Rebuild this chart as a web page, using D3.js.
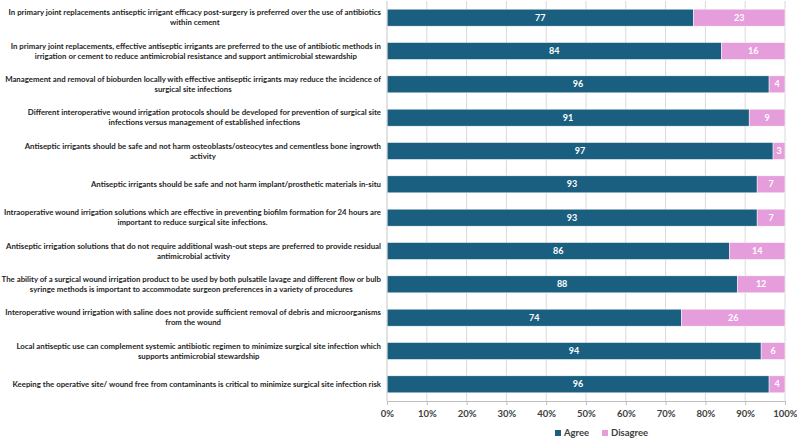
<!DOCTYPE html>
<html>
<head>
<meta charset="utf-8">
<script src="https://cdn.jsdelivr.net/npm/d3@7"></script>
<style>
  body { margin: 0; background: #fff; }
  svg { font-family: Lato, "Open Sans", sans-serif; }
</style>
</head>
<body>
<svg width="797" height="439"></svg>
<script>
// statements, each split into the lines shown in the chart
var statements = [
    ["In primary joint replacements antiseptic irrigant efficacy post-surgery is preferred over the use of antibiotics", "within cement"],
    ["In primary joint replacements, effective antiseptic irrigants are preferred to the use of antibiotic methods in", "irrigation or cement to reduce antimicrobial resistance and support antimicrobial stewardship"],
    ["Management and removal of bioburden locally with effective antiseptic irrigants may reduce the incidence of", "surgical site infections"],
    ["Different interoperative wound irrigation protocols should be developed for prevention of surgical site", "infections versus management of established infections"],
    ["Antiseptic irrigants should be safe and not harm osteoblasts/osteocytes and cementless bone ingrowth", "activity"],
    ["Antiseptic irrigants should be safe and not harm implant/prosthetic materials in-situ"],
    ["Intraoperative wound irrigation solutions which are effective in preventing biofilm formation for 24 hours are", "important to reduce surgical site infections."],
    ["Antiseptic irrigation solutions that do not require additional wash-out steps are preferred to provide residual", "antimicrobial activity"],
    ["The ability of a surgical wound irrigation product to be used by both pulsatile lavage and different flow or bulb", "syringe methods is important to accommodate surgeon preferences in a variety of procedures"],
    ["Interoperative wound irrigation with saline does not provide sufficient removal of debris and microorganisms", "from the wound"],
    ["Local antiseptic use can complement systemic antibiotic regimen to minimize surgical site infection which", "supports antimicrobial stewardship"],
    ["Keeping the operative site/ wound free from contaminants is critical to minimize surgical site infection risk"]
];
var agree    = [77, 84, 96, 91, 97, 93, 93, 86, 88, 74, 94, 96];
var disagree = [23, 16, 4, 9, 3, 7, 7, 14, 12, 26, 6, 4];
var seriesNames = ["Agree", "Disagree"];
var xTicks = [0, 10, 20, 30, 40, 50, 60, 70, 80, 90, 100];

var colors = { "Agree": "#1B5F80", "Disagree": "#E59EDB" };

var svg = d3.select('svg');

var rows = statements.map(function(s, i) {
    return { id: i, lines: s, Agree: agree[i], Disagree: disagree[i] };
});

var x = d3.scaleLinear().domain([0, 100]).range([387, 785]);
var y = d3.scaleBand()
    .domain(rows.map(d => d.id))
    .range([1, 401])
    .paddingInner(0.49)
    .paddingOuter(0.245);

// gridlines
svg.append("g")
    .selectAll("line")
    .data(xTicks)
    .enter()
    .append("line")
    .attr("x1", d => x(d))
    .attr("x2", d => x(d))
    .attr("y1", 1)
    .attr("y2", 401)
    .style("stroke", "#d9d9d9")
    .style("stroke-width", 1);

// stacked bars
var stack = d3.stack().keys(seriesNames)(rows);

var layers = svg.selectAll("g.layer")
    .data(stack)
    .enter()
    .append("g")
    .attr("class", "layer")
    .style("fill", d => colors[d.key]);

layers.selectAll("rect")
    .data(d => d)
    .enter()
    .append("rect")
    .attr("x", d => x(d[0]))
    .attr("y", d => y(d.data.id))
    .attr("width", d => x(d[1]) - x(d[0]))
    .attr("height", y.bandwidth())
    .style("stroke", "#ffffff")
    .style("stroke-width", 0.5);

layers.selectAll("text")
    .data(d => d)
    .enter()
    .append("text")
    .attr("x", d => (x(d[0]) + x(d[1])) / 2)
    .attr("y", d => y(d.data.id) + y.bandwidth() / 2)
    .attr("dy", "0.35em")
    .attr("text-anchor", "middle")
    .style("fill", "#ffffff")
    .style("font-size", "9px")
    .style("font-weight", "700")
    .text(d => d[1] - d[0]);

// x axis
var xAxis = d3.axisBottom(x)
    .tickValues(xTicks)
    .tickSize(4)
    .tickFormat(d => d + "%");
var gx = svg.append("g")
    .attr("transform", "translate(0,401)")
    .call(xAxis);
gx.select(".domain").style("stroke", "#bfbfbf");
gx.selectAll(".tick line").style("stroke", "#bfbfbf");
gx.selectAll(".tick text")
    .attr("y", 9)
    .style("font-family", "Lato, sans-serif")
    .style("font-size", "9.5px")
    .style("font-weight", "700")
    .style("fill", "#404040");

// left axis line
svg.append("line")
    .attr("x1", 387).attr("x2", 387)
    .attr("y1", 1).attr("y2", 401)
    .style("stroke", "#d9d9d9");

// category labels, block right-aligned, lines centred within the block
var labelRight = 381;
var labelFont = 8;
var labels = svg.append("g")
    .style("font-size", labelFont + "px")
    .style("font-weight", "700")
    .style("fill", "#262626");

// scale font so the widest line fits the available width
var widest = 0;
statements.forEach(function(s) {
    s.forEach(function(line) {
        var probe = labels.append("text").text(line);
        widest = Math.max(widest, probe.node().getComputedTextLength());
        probe.remove();
    });
});
labelFont = labelFont * 380 / widest;
labels.style("font-size", labelFont + "px");

rows.forEach(function(d) {
    var g = labels.append("g");
    var n = d.lines.length;
    var cy = y(d.id) + y.bandwidth() / 2;
    var texts = d.lines.map(function(line, k) {
        return g.append("text")
            .attr("y", cy + (k - (n - 1) / 2) * 10)
            .attr("dy", "0.35em")
            .attr("text-anchor", "middle")
            .text(line);
    });
    var maxW = d3.max(texts, t => t.node().getComputedTextLength());
    texts.forEach(t => t.attr("x", labelRight - maxW / 2));
});

// legend
var legend = svg.append("g")
    .attr("transform", "translate(555,433)");
var legendX = [0, 47];
seriesNames.forEach(function(name, i) {
    legend.append("rect")
        .attr("x", legendX[i])
        .attr("y", -3)
        .attr("width", 6)
        .attr("height", 6)
        .style("fill", colors[name]);
    legend.append("text")
        .attr("x", legendX[i] + 9)
        .attr("y", 0)
        .attr("dy", "0.35em")
        .style("font-size", "9.5px")
        .style("font-weight", "700")
        .style("fill", "#404040")
        .text(name);
});
</script>
</body>
</html>
